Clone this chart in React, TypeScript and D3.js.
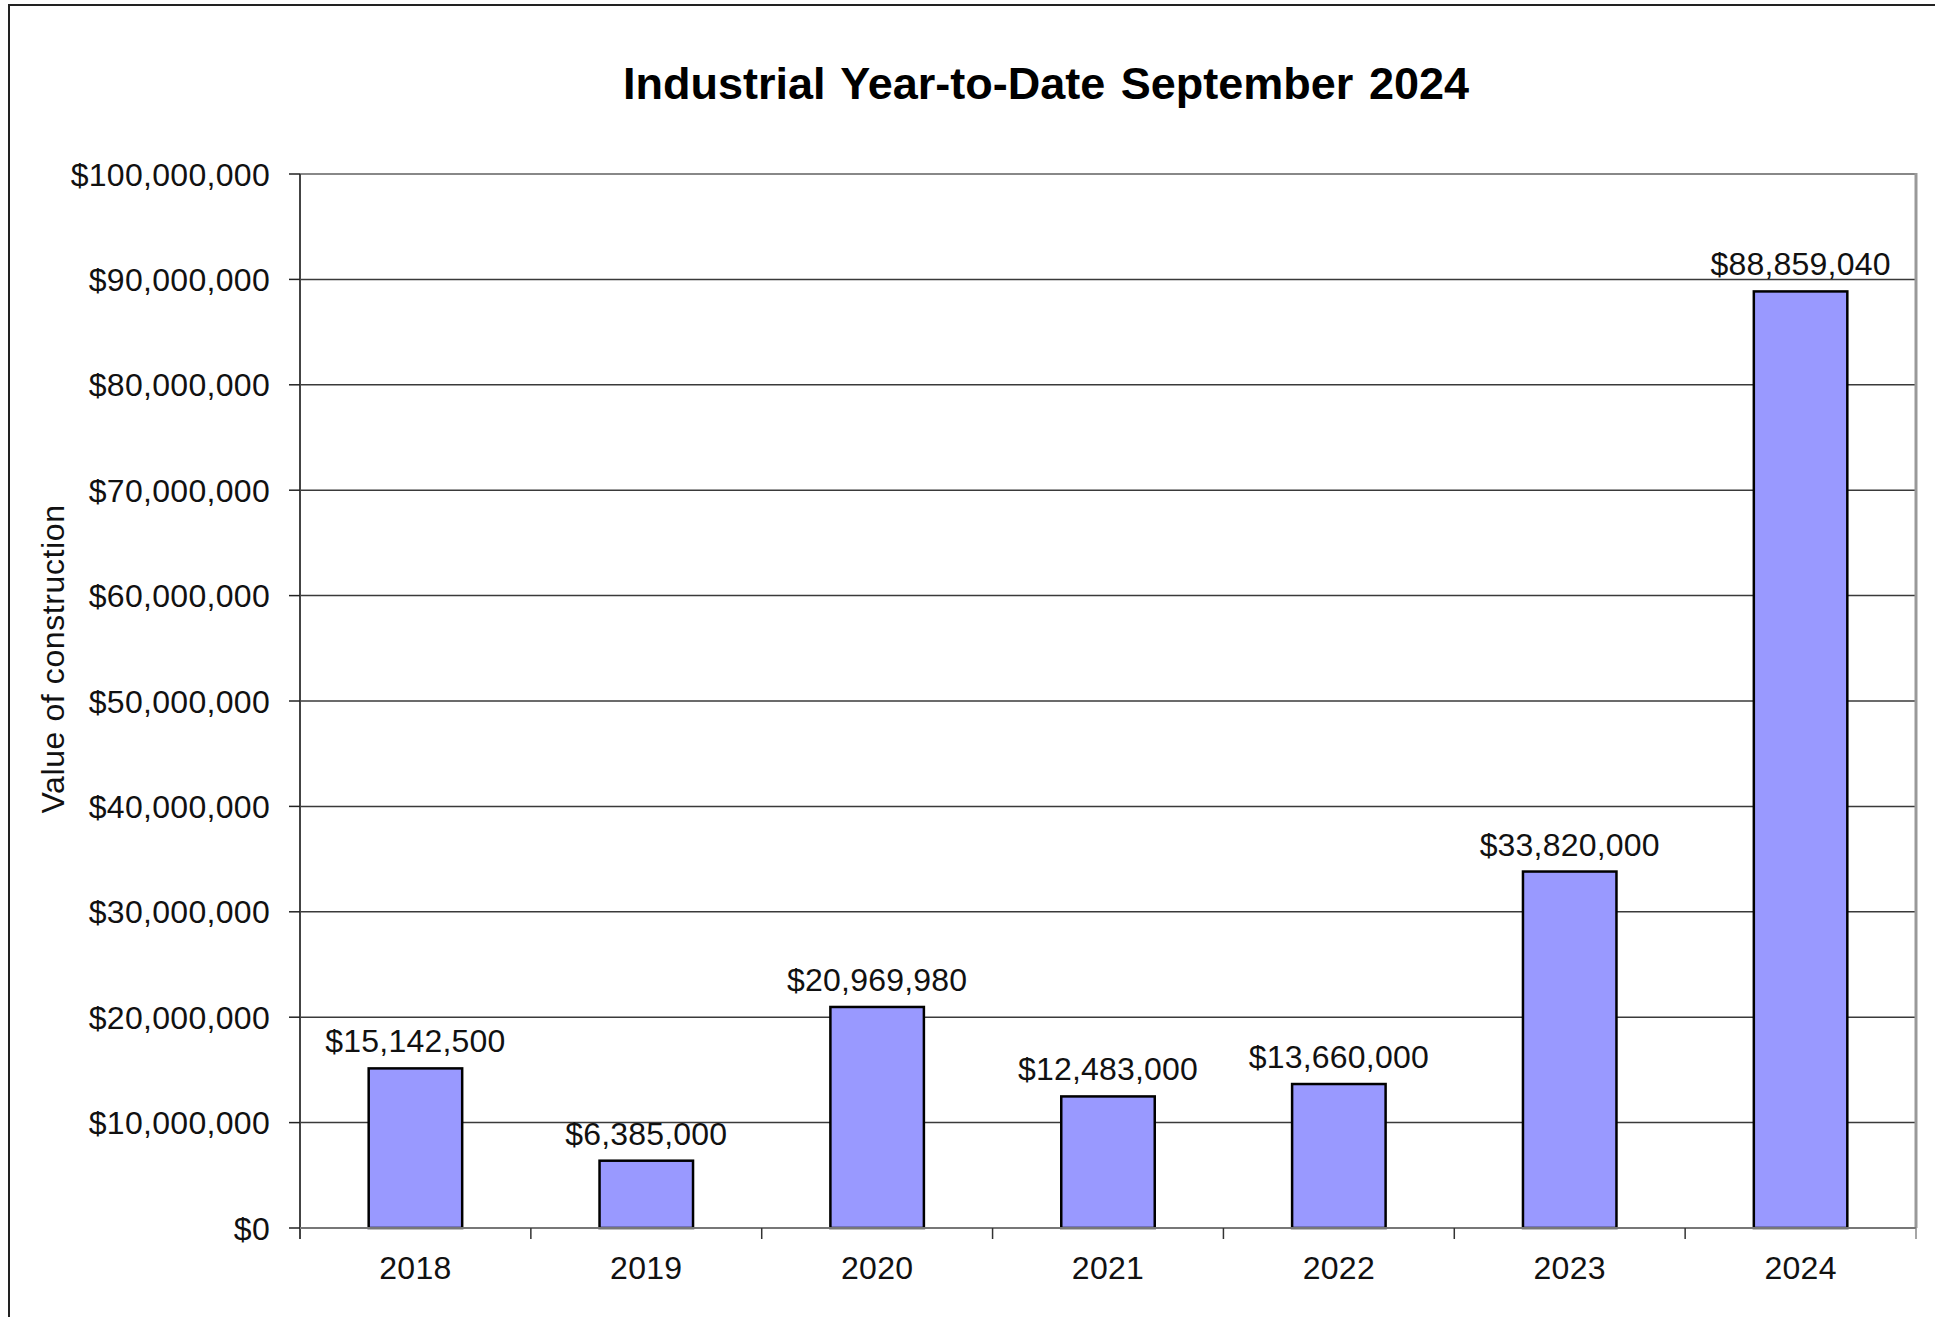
import React from "react";
import * as d3 from "d3";

const categories = ["2018", "2019", "2020", "2021", "2022", "2023", "2024"];
const values = [15142500, 6385000, 20969980, 12483000, 13660000, 33820000, 88859040];
const yTicks = [0, 10000000, 20000000, 30000000, 40000000, 50000000, 60000000, 70000000, 80000000, 90000000, 100000000];
const title = "Industrial Year-to-Date September 2024";
const yTitle = "Value of construction";

const W = 1935;
const H = 1317;
const plot = { left: 300, right: 1916, top: 174, bottom: 1228 };
const FONT = "'Liberation Sans', Arial, sans-serif";

export default function App() {
  const x = d3
    .scaleBand<string>()
    .domain(categories)
    .range([plot.left, plot.right])
    .paddingInner(0)
    .paddingOuter(0);
  const y = d3.scaleLinear().domain([0, 100000000]).range([plot.bottom, plot.top]);
  const fmt = (v: number) => "$" + d3.format(",")(Math.round(v));
  const bw = x.bandwidth() * 0.405;

  return (
    <svg
      width={W}
      height={H}
      style={{ position: "absolute", left: 0, top: 0, background: "#fff" }}
      fontFamily={FONT}
    >
      <rect x={0} y={0} width={W} height={H} fill="#fff" />
      {/* outer chart border */}
      <rect x={9} y={5} width={W + 50} height={H + 50} fill="none" stroke="#222" strokeWidth={2} />

      {/* title */}
      <text
        x={1046}
        y={99}
        textAnchor="middle"
        fontSize={45}
        fontWeight="bold"
        wordSpacing={3}
        fill="#000"
      >
        {title}
      </text>

      {/* gridlines */}
      {yTicks
        .filter((t) => t > 0 && t < 100000000)
        .map((t) => (
          <line
            key={"g" + t}
            x1={plot.left}
            x2={plot.right}
            y1={y(t)}
            y2={y(t)}
            stroke="#3a3a3a"
            strokeWidth={1.5}
          />
        ))}

      {/* plot border top & right */}
      <line x1={plot.left} x2={plot.right} y1={plot.top} y2={plot.top} stroke="#888" strokeWidth={2} />
      <line x1={plot.right} x2={plot.right} y1={plot.top - 1} y2={plot.bottom} stroke="#999" strokeWidth={3} />

      {/* bars */}
      {categories.map((c, i) => {
        const cx = (x(c) as number) + x.bandwidth() / 2;
        return (
          <rect
            key={"b" + c}
            x={cx - bw / 2}
            y={y(values[i])}
            width={bw}
            height={plot.bottom - y(values[i])}
            fill="#9999FF"
            stroke="#000"
            strokeWidth={2.5}
          />
        );
      })}

      {/* axes */}
      <line x1={plot.left} x2={plot.left} y1={plot.top} y2={plot.bottom + 11} stroke="#444" strokeWidth={2} />
      <line x1={plot.left} x2={plot.right} y1={plot.bottom} y2={plot.bottom} stroke="#777" strokeWidth={2} />

      {/* y ticks & labels */}
      {yTicks.map((t) => (
        <g key={"yt" + t}>
          <line x1={plot.left - 11} x2={plot.left} y1={y(t)} y2={y(t)} stroke="#222" strokeWidth={1.5} />
          <text
            x={270}
            y={y(t) + 11.5}
            textAnchor="end"
            fontSize={32}
            letterSpacing={0.3}
            fill="#111"
          >
            {fmt(t)}
          </text>
        </g>
      ))}

      {/* x ticks at category boundaries */}
      {categories.map((c, i) => {
        const bx = (x(c) as number) + x.bandwidth();
        return (
          <line
            key={"xt" + c}
            x1={bx}
            x2={bx}
            y1={plot.bottom}
            y2={plot.bottom + 11}
            stroke={i === categories.length - 1 ? "#888" : "#333"}
            strokeWidth={1.5}
          />
        );
      })}

      {/* x labels */}
      {categories.map((c) => (
        <text
          key={"xl" + c}
          x={(x(c) as number) + x.bandwidth() / 2}
          y={1279}
          textAnchor="middle"
          fontSize={32}
          letterSpacing={0.3}
          fill="#111"
        >
          {c}
        </text>
      ))}

      {/* data labels */}
      {categories.map((c, i) => (
        <text
          key={"dl" + c}
          x={(x(c) as number) + x.bandwidth() / 2}
          y={y(values[i]) - 16}
          textAnchor="middle"
          fontSize={32}
          letterSpacing={0.2}
          fill="#111"
        >
          {fmt(values[i])}
        </text>
      ))}

      {/* y axis title */}
      <text
        transform={`translate(64,659) rotate(-90)`}
        textAnchor="middle"
        fontSize={32}
        letterSpacing={0.6}
        fill="#111"
      >
        {yTitle}
      </text>
    </svg>
  );
}
